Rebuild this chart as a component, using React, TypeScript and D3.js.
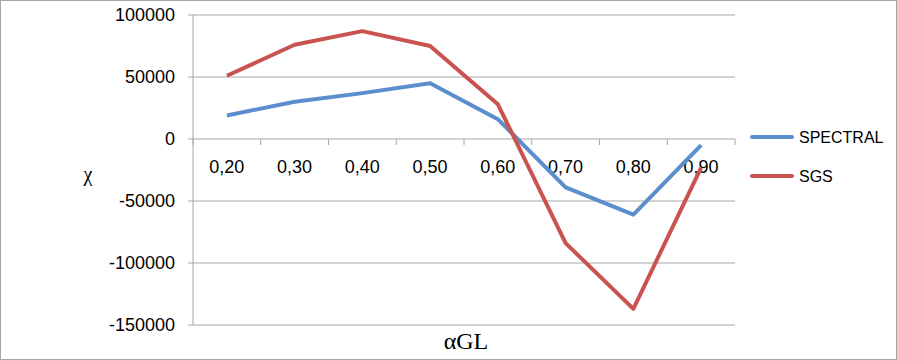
import React from "react";
import * as d3 from "d3";

const categories = ["0,20", "0,30", "0,40", "0,50", "0,60", "0,70", "0,80", "0,90"];
const spectral = [19000, 30000, 37000, 45000, 16000, -39000, -61000, -5000];
const sgs = [51000, 76000, 87000, 75000, 28000, -84000, -137000, -23000];
const yTicks = [100000, 50000, 0, -50000, -100000, -150000];

const series = [
  { name: "SPECTRAL", values: spectral, color: "#5B8ECC" },
  { name: "SGS", values: sgs, color: "#C9544F" },
];

const W = 897;
const H = 360;
const left = 193;
const right = 735;
const top = 15;
const bottom = 325;

const App = () => {
  const x = d3.scaleBand().domain(categories).range([left, right]);
  const y = d3.scaleLinear().domain([-150000, 100000]).range([bottom, top]);

  const line = d3
    .line<number>()
    .x((d, i) => (x(categories[i]) as number) + x.bandwidth() / 2)
    .y((d) => y(d));

  const edges = categories.map((c) => x(c) as number).concat([right]);

  return (
    <svg
      width={W}
      height={H}
      style={{ position: "absolute", left: 0, top: 0 }}
      fontFamily="'Liberation Sans', Arial, sans-serif"
    >
      <rect x={0.5} y={0.5} width={W - 1} height={H - 1} fill="#fff" stroke="#a6a6a6" />

      {/* grid */}
      {yTicks.map((t) => (
        <g key={t}>
          <line x1={left - 5} x2={right} y1={y(t)} y2={y(t)} stroke="#a6a6a6" strokeWidth={1} />
          <text x={175} y={y(t)} dy="0.35em" textAnchor="end" fontSize={18} fill="#000">
            {t}
          </text>
        </g>
      ))}
      <line x1={left} x2={left} y1={top} y2={bottom} stroke="#a6a6a6" />

      {/* x axis ticks at zero */}
      {edges.map((e, i) => (
        <line key={i} x1={e} x2={e} y1={y(0)} y2={y(0) + 6} stroke="#a6a6a6" />
      ))}
      {categories.map((c) => (
        <text
          key={c}
          x={(x(c) as number) + x.bandwidth() / 2}
          y={167}
          dy="0.35em"
          textAnchor="middle"
          fontSize={18}
          fill="#000"
        >
          {c}
        </text>
      ))}

      {/* series */}
      {series.map((s) => (
        <path
          key={s.name}
          d={line(s.values) || ""}
          fill="none"
          stroke={s.color}
          strokeWidth={4}
          strokeLinejoin="round"
        />
      ))}

      {/* legend */}
      {series.map((s, i) => (
        <g key={s.name} transform={`translate(752,${137 + i * 39})`}>
          <line x1={0} x2={40} y1={0} y2={0} stroke={s.color} strokeWidth={4} strokeLinecap="round" />
          <text x={47} y={0} dy="0.35em" fontSize={16} fill="#000">
            {s.name}
          </text>
        </g>
      ))}

      {/* axis titles */}
      <text x={88} y={174} dy="0.35em" textAnchor="middle" fontFamily="'Liberation Serif', serif" fontSize={20}>
        χ
      </text>
      <text x={466} y={341} dy="0.35em" textAnchor="middle" fontFamily="'Liberation Serif', serif" fontSize={24}>
        αGL
      </text>
    </svg>
  );
};

export default App;
